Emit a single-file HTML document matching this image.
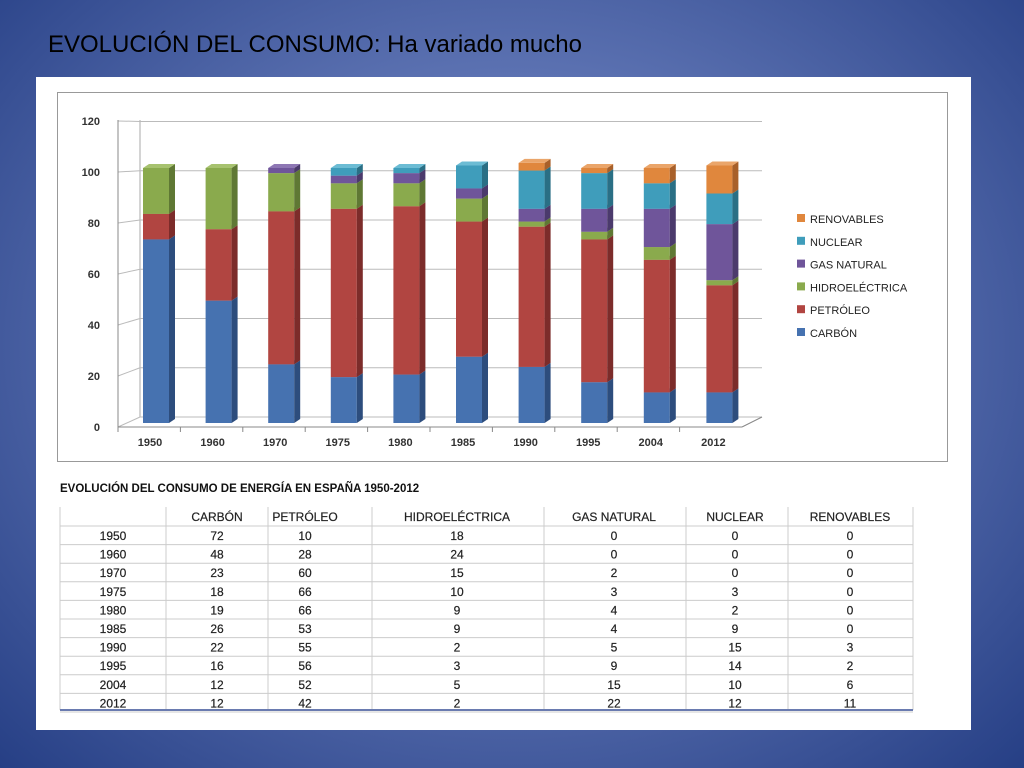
<!DOCTYPE html>
<html><head><meta charset="utf-8"><style>
body{margin:0;width:1024px;height:768px;overflow:hidden;background:radial-gradient(ellipse at 50% 45%,#95a6d4 0%,#5c72b2 45%,#263f85 100%);font-family:"Liberation Sans",sans-serif}
</style></head><body>
<div style="position:absolute;left:48px;top:31px;font-size:24px;color:#000">EVOLUCIÓN DEL CONSUMO: Ha variado mucho</div>
<svg style="position:absolute;left:0;top:0" width="1024" height="768" id="svg"></svg>
<script>
const years=['1950','1960','1970','1975','1980','1985','1990','1995','2004','2012'];
const carbon=[72,48,23,18,19,26,22,16,12,12];
const petroleo=[10,28,60,66,66,53,55,56,52,42];
const hidro=[18,24,15,10,9,9,2,3,5,2];
const gas=[0,0,2,3,4,4,5,9,15,22];
const nuclear=[0,0,0,3,2,9,15,14,10,12];
const renov=[0,0,0,0,0,0,3,2,6,11];
const yTicks=[0,20,40,60,80,100,120];
const names=['CARBÓN','PETRÓLEO','HIDROELÉCTRICA','GAS NATURAL','NUCLEAR','RENOVABLES'];
const series=[carbon,petroleo,hidro,gas,nuclear,renov];
const colF=['#4672b0','#b14541','#8aaa4d','#6f559a','#3f9dbb','#e0873d'];
const colS=['#2d4d7d','#7c2c2a','#5f7834','#4b3a6c','#2a6f85','#a8602a'];
const colT=['#6a90c8','#c86a66','#a7c26f','#8e77b4','#6cbcd4','#eaa56a'];
const NS='http://www.w3.org/2000/svg';const svg=document.getElementById('svg');
function el(t,a,p){const e=document.createElementNS(NS,t);for(const k in a)e.setAttribute(k,a[k]);(p||svg).appendChild(e);return e;}
function yF(v){return 423-v*2.55;}
function yG(v){return 417-v*2.463;}
function xC(i){return 156+i*62.6;}
let r=el('rect',{x:36,y:77,width:935,height:653,fill:'#fff'});

r=el('rect',{x:57.5,y:92.5,width:890,height:369,fill:'#fff',stroke:'#999'});

el('line',{x1:140,y1:120,x2:140,y2:417,stroke:'#aaa'});
yTicks.forEach(v=>{
 const g=el('line',{x1:140,y1:yG(v),x2:762,y2:yG(v),stroke:'#bbb'});
 
 el('line',{x1:118,y1:yF(v)+4,x2:140,y2:yG(v),stroke:'#bbb'});
 const t=el('text',{x:100,y:yF(v)+8,'text-anchor':'end','font-size':'11','font-weight':'bold',fill:'#333'});
 t.textContent=v;
});
el('line',{x1:118,y1:120,x2:118,y2:427,stroke:'#888'});
el('line',{x1:118,y1:427,x2:742,y2:427,stroke:'#888'});
el('line',{x1:742,y1:427,x2:762,y2:417,stroke:'#888'});
years.forEach((y,i)=>{
 el('line',{x1:118+i*62.4,y1:427,x2:118+i*62.4,y2:432,stroke:'#888'});
 const t=el('text',{x:xC(i)-6,y:446,'text-anchor':'middle','font-size':'11','font-weight':'bold',fill:'#333'});
 t.textContent=y;
 let base=0;const w=26,dx=6,dy=4,x0=xC(i)-13;
 series.forEach((s,k)=>{
  const v=s[i];if(v<=0){return;}
  const yb=yF(base),yt=yF(base+v);
  const g=el('g',{});
  el('rect',{x:x0,y:yt,width:w,height:yb-yt,fill:colF[k]},g);
  el('polygon',{points:`${x0+w},${yb} ${x0+w+dx},${yb-dy} ${x0+w+dx},${yt-dy} ${x0+w},${yt}`,fill:colS[k]},g);
  el('polygon',{points:`${x0},${yt} ${x0+dx},${yt-dy} ${x0+w+dx},${yt-dy} ${x0+w},${yt}`,fill:colT[k]},g);
  base+=v;
 });
});
for(let k=5;k>=0;k--){
 const yy=219+(5-k)*22.8;
 const g=el('g',{});
 el('rect',{x:797,y:yy-5,width:8,height:8,fill:colF[k]},g);
 const t=el('text',{x:810,y:yy+4,'font-size':'11',fill:'#222'},g);t.textContent=names[k];
}
let t=el('text',{x:60,y:492,'font-size':'11.5','font-weight':'bold',fill:'#111'});
t.textContent='EVOLUCIÓN DEL CONSUMO DE ENERGÍA EN ESPAÑA 1950-2012';

const colX=[113,217,305,457,614,735,850];const colB=[60,166,268,372,544,686,788,913];
colB.forEach(x=>el('line',{x1:x,y1:507,x2:x,y2:710,stroke:'#ccc'}));
for(let j=0;j<11;j++){const yy=526+j*18.6;el('line',{x1:60,y1:yy,x2:913,y2:yy,stroke:'#ccc'});}
el('line',{x1:60,y1:710,x2:913,y2:710,stroke:'#6a7bb0','stroke-width':2});
names.forEach((n,k)=>{const h=el('text',{x:colX[k+1],y:521,'text-anchor':'middle','font-size':'12','font-weight':'500',fill:'#222','stroke':'#222','stroke-width':'0.2'});h.textContent=n;
 });
years.forEach((y,i)=>{
 const yy=540+i*18.6;
 const a=el('text',{x:colX[0],y:yy,'text-anchor':'middle','font-size':'12',fill:'#222','stroke':'#222','stroke-width':'0.2'});a.textContent=y;
 
 series.forEach((s,k)=>{const c=el('text',{x:colX[k+1],y:yy,'text-anchor':'middle','font-size':'12',fill:'#222','stroke':'#222','stroke-width':'0.2'});c.textContent=s[i];
  });
});
</script>
</body></html>
